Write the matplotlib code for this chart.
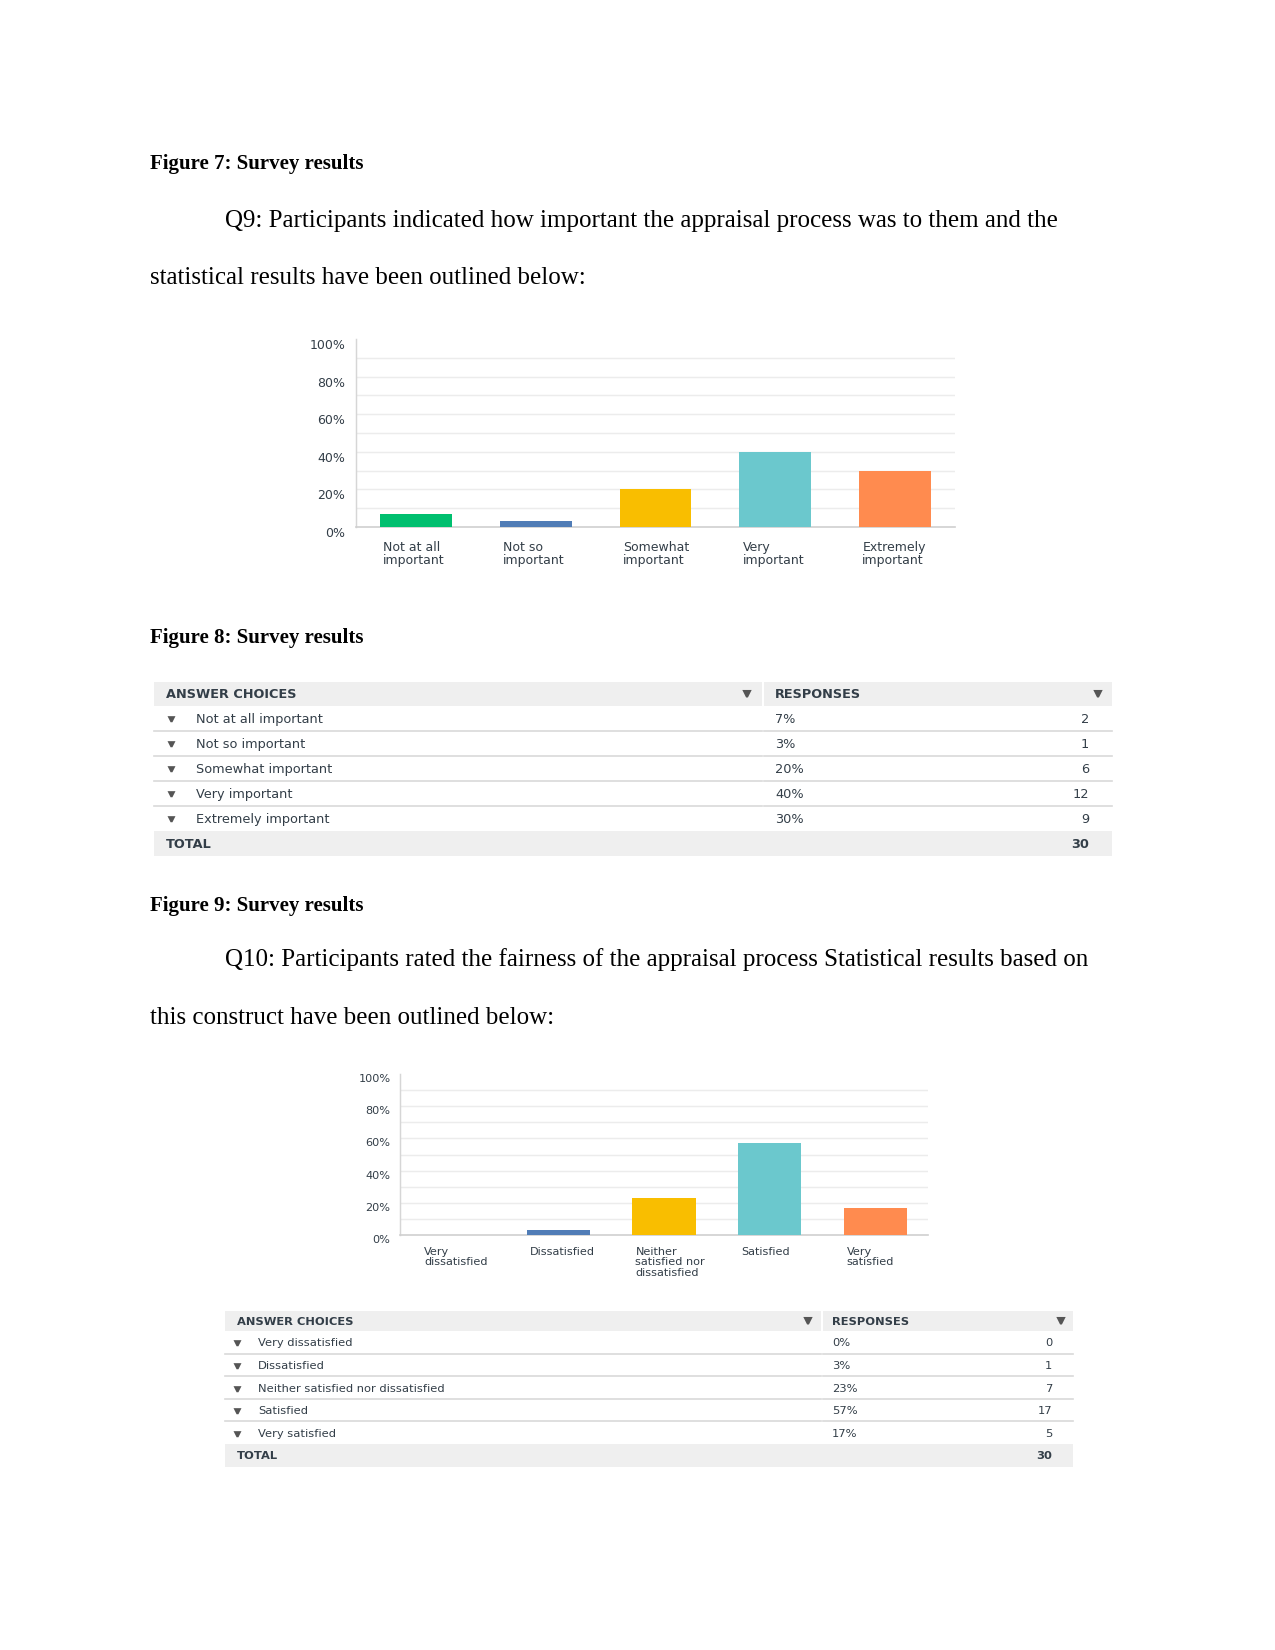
import matplotlib.pyplot as plt
from matplotlib.patches import Rectangle

# Q9 data
q9_labels = ['Not at all\nimportant', 'Not so\nimportant', 'Somewhat\nimportant',
             'Very\nimportant', 'Extremely\nimportant']
q9_choices = ['Not at all important', 'Not so important', 'Somewhat important',
              'Very important', 'Extremely important']
q9_pct = [7, 3, 20, 40, 30]
q9_counts = [2, 1, 6, 12, 9]

# Q10 data
q10_labels = ['Very\ndissatisfied', 'Dissatisfied', 'Neither\nsatisfied nor\ndissatisfied',
              'Satisfied', 'Very\nsatisfied']
q10_choices = ['Very dissatisfied', 'Dissatisfied', 'Neither satisfied nor dissatisfied',
               'Satisfied', 'Very satisfied']
q10_pct = [0, 3, 23, 57, 17]
q10_counts = [0, 1, 7, 17, 5]

bar_colors = ['#00BF6F', '#507CB6', '#F9BE00', '#6BC8CD', '#FF8B4F']
yticks = [0, 20, 40, 60, 80, 100]

W, H = 1275, 1650
TXT = '#333E48'
GREY_BG = '#EFEFEF'
SERIF = 'Liberation Serif'

fig = plt.figure(figsize=(8.5, 11), dpi=150)
page = fig.add_axes([0, 0, 1, 1])
page.set_xlim(0, W)
page.set_ylim(H, 0)
page.axis('off')


def body(x, y, s, bold=False, size=12):
    page.text(x, y + 2.5, s, fontsize=size, family=SERIF, fontweight='bold' if bold else 'normal',
              va='center', ha='left', color='black')


def bar_chart(left, right, top, bottom, labels, values, fs, lab_pad):
    ax = fig.add_axes([left / W, 1 - bottom / H, (right - left) / W, (bottom - top) / H])
    ax.bar(range(len(values)), values, width=0.6, color=bar_colors, zorder=3)
    ax.set_xlim(-0.5, len(values) - 0.5)
    ax.set_ylim(0, 100)
    for g in range(10, 100, 10):
        ax.axhline(g, color='#ECECEC', lw=0.7, zorder=1)
    ax.set_yticks(yticks)
    ax.set_yticklabels(['%d%%' % t for t in yticks], fontsize=fs, color=TXT, va='top')
    ax.tick_params(axis='y', length=0, pad=fs * 0.85)
    ax.set_xticks([])
    for s in ['top', 'right']:
        ax.spines[s].set_visible(False)
    ax.spines['left'].set_color('#D6D6D6')
    ax.spines['bottom'].set_color('#CFCFCF')
    ax.spines['left'].set_linewidth(0.7)
    ax.spines['bottom'].set_linewidth(0.8)
    for i, lab in enumerate(labels):
        ax.annotate(lab, xy=(i - 0.3, 0), xycoords=('data', 'axes fraction'),
                    xytext=(1.5, -lab_pad), textcoords='offset points',
                    ha='left', va='top', fontsize=fs, color=TXT, linespacing=1.05)
    return ax


def table(x0, x1, xdiv, top, head_h, row_h, choices, pct, counts, fs, pos):
    arrow_x, text_x, pct_x, cnt_x, ha1, ha2 = pos
    gap = 2
    base = 0.36 * fs * 150 / 72  # centre of caps -> baseline
    page.add_patch(Rectangle((x0, top), xdiv - gap / 2 - x0, head_h, color=GREY_BG, lw=0))
    page.add_patch(Rectangle((xdiv + gap / 2, top), x1 - xdiv - gap / 2, head_h, color=GREY_BG, lw=0))
    hy = top + head_h / 2
    page.text(x0 + 12, hy + base, 'ANSWER CHOICES', fontsize=fs, fontweight='bold',
              color=TXT, va='baseline', ha='left')
    page.text(pct_x, hy + base, 'RESPONSES', fontsize=fs, fontweight='bold',
              color=TXT, va='baseline', ha='left')
    page.plot([ha1, ha2], [hy, hy], ls='none', marker='v', ms=2.6, color='#555555')
    y = top + head_h
    for k in range(len(choices)):
        cy = y + row_h * (k + 0.5)
        page.plot([arrow_x], [cy + 1], ls='none', marker='v', ms=2.2, color='#555555')
        page.text(text_x, cy + base, choices[k], fontsize=fs, color=TXT, va='baseline', ha='left')
        page.text(pct_x, cy + base, '%d%%' % pct[k], fontsize=fs, color=TXT, va='baseline', ha='left')
        page.text(cnt_x, cy + base, str(counts[k]), fontsize=fs, color=TXT, va='baseline', ha='right')
        if k < len(choices) - 1:
            ly = y + row_h * (k + 1)
            page.plot([x0, xdiv - 1], [ly, ly], color='#D9D9D9', lw=0.8)
            page.plot([xdiv + 1, x1], [ly, ly], color='#D9D9D9', lw=0.8)
    ty = y + row_h * len(choices)
    page.add_patch(Rectangle((x0, ty), x1 - x0, row_h, color=GREY_BG, lw=0))
    page.text(x0 + 12, ty + row_h / 2 + base, 'TOTAL', fontsize=fs, fontweight='bold', color=TXT,
              va='baseline', ha='left')
    page.text(cnt_x, ty + row_h / 2 + base, str(sum(counts)), fontsize=fs, fontweight='bold',
              color=TXT, va='baseline', ha='right')


# page text
body(150, 162, 'Figure 7: Survey results', bold=True, size=10)
body(225, 218, 'Q9: Participants indicated how important the appraisal process was to them and the')
body(150, 275, 'statistical results have been outlined below:')

bar_chart(356, 955, 339, 527, q9_labels, q9_pct, 6, 6.5)

body(150, 635, 'Figure 8: Survey results', bold=True, size=10)
table(154, 1112, 763, 682, 23.5, 25, q9_choices, q9_pct, q9_counts, 6.2,
      (171, 196, 775, 1089, 747, 1098))

body(150, 903, 'Figure 9: Survey results', bold=True, size=10)
body(225, 957, 'Q10: Participants rated the fairness of the appraisal process Statistical results based on')
body(150, 1015, 'this construct have been outlined below:')

bar_chart(400, 928, 1074, 1235, q10_labels, q10_pct, 5.4, 5.8)

table(225, 1073, 822, 1311, 20, 22.6, q10_choices, q10_pct, q10_counts, 5.5,
      (237, 258, 832, 1052, 808, 1061))

fig.savefig('out.png', dpi=150)
